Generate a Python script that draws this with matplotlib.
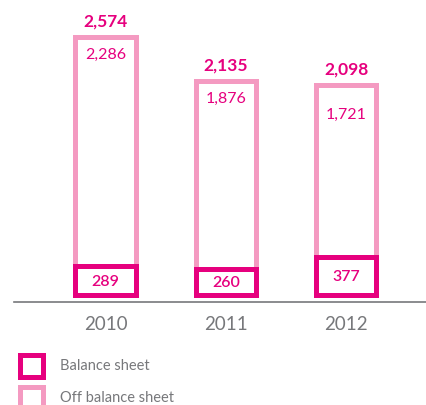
import matplotlib
matplotlib.use("Agg")
import matplotlib.pyplot as plt
from matplotlib.patches import Rectangle
from matplotlib.transforms import blended_transform_factory

years = ["2010", "2011", "2012"]
balance = [289, 260, 377]
off_balance = [2286, 1876, 1721]
totals = [2574, 2135, 2098]

MAGENTA = "#e6007e"
PINK = "#f49ac1"
GRAY = "#77787b"
FONT = ["Lato", "DejaVu Sans"]

W, H = 426, 405
fig = plt.figure(figsize=(W / 100, H / 100), dpi=100)
fig.patch.set_facecolor("white")

ax_left, ax_bottom_px = 14, 301.5
ax = fig.add_axes([ax_left / W, (H - ax_bottom_px) / H, (W - ax_left) / W, ax_bottom_px / H])
ax.set_xlim(-0.761, 2.664)
ax.set_ylim(-70, 2945)
for s in ["top", "left", "right"]:
    ax.spines[s].set_visible(False)
ax.spines["bottom"].set_color(GRAY)
ax.spines["bottom"].set_linewidth(1.2)
ax.set_yticks([])
ax.set_xticks([])

x = list(range(len(years)))
lw = 3.6
ax.bar(x, off_balance, bottom=balance, width=0.5, facecolor="white",
       edgecolor=PINK, linewidth=lw, zorder=2)
ax.bar(x, balance, width=0.5, facecolor="white",
       edgecolor=MAGENTA, linewidth=lw, zorder=3)

inner_offsets = [21.5, 21.5, 34.5]
for i in x:
    top = balance[i] + off_balance[i]
    ax.annotate(f"{totals[i]:,}", xy=(i, top), xytext=(0, 10), textcoords="offset pixels",
                ha="center", va="baseline", color=MAGENTA, fontsize=12.5,
                fontweight="bold", family=FONT, zorder=5)
    ax.annotate(f"{off_balance[i]:,}", xy=(i, top), xytext=(0, -inner_offsets[i]),
                textcoords="offset pixels", ha="center", va="baseline", color=MAGENTA,
                fontsize=11.5, family=FONT, zorder=5)
    ax.annotate(f"{balance[i]:,}", xy=(i, balance[i] / 2), xytext=(0, -5.5),
                textcoords="offset pixels", ha="center", va="baseline", color=MAGENTA,
                fontsize=11.5, fontweight="semibold", family=FONT, zorder=5)

trans = blended_transform_factory(ax.transData, ax.transAxes)
for i, yr in enumerate(years):
    ax.text(i, -23.5 / ax_bottom_px, yr, transform=trans, ha="center", va="center",
            color=GRAY, fontsize=13.5, fontweight="normal", family=FONT)

def fx(px):
    return px / W

def fy(py):
    return (H - py) / H

legend_items = [("Balance sheet", MAGENTA, 355.2), ("Off balance sheet", PINK, 386.5)]
for label, col, ytop in legend_items:
    r = Rectangle((fx(19.5), fy(ytop + 22)), fx(23), 22 / H, transform=fig.transFigure,
                  facecolor="white", edgecolor=col, linewidth=lw, clip_on=False)
    fig.add_artist(r)
    fig.text(fx(60.5), fy(ytop + 11), label, ha="left", va="center", color=GRAY,
             fontsize=10.5, family=FONT)

fig.savefig("out.png", dpi=100, facecolor="white")
